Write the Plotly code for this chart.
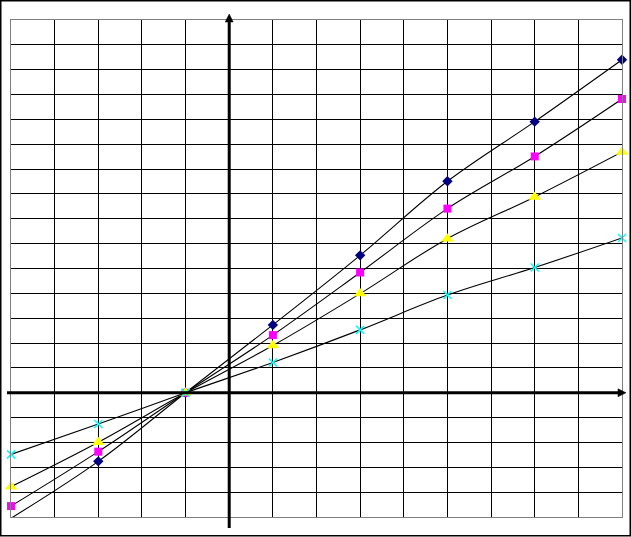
import plotly.graph_objects as go

# Data
x_vals = [-5, -3, -1, 1, 3, 5, 7, 9]
navy = [-5.05, -2.76, 0, 2.73, 5.53, 8.51, 10.91, 13.40]
magenta = [-4.56, -2.37, 0, 2.32, 4.84, 7.41, 9.51, 11.82]
yellow = [-3.78, -1.99, 0, 1.90, 3.99, 6.20, 7.88, 9.69]
cyan = [-2.48, -1.26, 0, 1.22, 2.53, 3.93, 5.04, 6.23]

X_MIN, X_MAX = -5, 9
Y_MIN, Y_MAX = -5, 15

series = [
    (navy, "diamond", "#000080", 8, None),
    (magenta, "square", "#FF00FF", 8, None),
    (yellow, "triangle-up", "#FFFF00", 11, None),
    (cyan, "x-thin", "#00FFFF", 8, "#00FFFF"),
]

fig = go.Figure()
for vals, sym, col, sz, lcol in series:
    op = [1 if Y_MIN <= v <= Y_MAX else 0 for v in vals]
    marker = dict(symbol=sym, color=col, size=sz, opacity=op)
    if lcol:
        marker["line"] = dict(color=lcol, width=1.5)
    else:
        marker["line"] = dict(width=0)
    fig.add_trace(go.Scatter(
        x=x_vals, y=vals, mode="lines+markers",
        line=dict(color="#000000", width=1.1, shape="spline", smoothing=1),
        marker=marker, cliponaxis=False, showlegend=False,
    ))

L, R, T, B = 11, 9, 20, 20
W, H = 631, 537
pw, ph = W - L - R, H - T - B

def fx(px):
    return (px - L) / pw

def fy(py):
    return (H - B - py) / ph

x0p = (0 - X_MIN) / (X_MAX - X_MIN)  # paper x of y-axis
y0p = (0 - Y_MIN) / (Y_MAX - Y_MIN)  # paper y of x-axis

fig.update_layout(
    width=W, height=H,
    margin=dict(l=L, r=R, t=T, b=B),
    paper_bgcolor="white", plot_bgcolor="white",
    xaxis=dict(range=[X_MIN, X_MAX], dtick=1, tick0=0, showgrid=True,
               gridcolor="#000000", gridwidth=1, zeroline=False,
               showticklabels=False, ticks="", showline=True,
               linecolor="#808080", linewidth=1, mirror=True, fixedrange=True),
    yaxis=dict(range=[Y_MIN, Y_MAX], dtick=1, tick0=0, showgrid=True,
               gridcolor="#000000", gridwidth=1, zeroline=False,
               showticklabels=False, ticks="", showline=True,
               linecolor="#808080", linewidth=1, mirror=True, fixedrange=True),
)

# Axis lines (paper coords, not clipped)
xax_y = y0p
yax_x = x0p
fig.add_shape(type="line", xref="paper", yref="paper",
              x0=fx(7), x1=fx(619), y0=xax_y, y1=xax_y,
              line=dict(color="#000000", width=3))
fig.add_shape(type="line", xref="paper", yref="paper",
              x0=yax_x, x1=yax_x, y0=fy(528), y1=fy(20),
              line=dict(color="#000000", width=3))

# Arrowheads
ax_px = L + x0p * pw          # pixel x of y-axis
ay_px = H - B - y0p * ph      # pixel y of x-axis
tip_x = 626
fig.add_shape(type="path", xref="paper", yref="paper",
              path=f"M {fx(tip_x)} {fy(ay_px)} L {fx(tip_x - 8)} {fy(ay_px - 4)} L {fx(tip_x - 8)} {fy(ay_px + 4)} Z",
              fillcolor="#000000", line=dict(color="#000000", width=0.5))
tip_y = 14
fig.add_shape(type="path", xref="paper", yref="paper",
              path=f"M {fx(ax_px)} {fy(tip_y)} L {fx(ax_px - 4)} {fy(tip_y + 8)} L {fx(ax_px + 4)} {fy(tip_y + 8)} Z",
              fillcolor="#000000", line=dict(color="#000000", width=0.5))

# Outer frame
fig.add_shape(type="rect", xref="paper", yref="paper",
              x0=fx(0.75), x1=fx(W - 0.75),
              y0=fy(H - 1.25), y1=fy(0.75),
              line=dict(color="#000000", width=1.5), fillcolor="rgba(0,0,0,0)")

fig.write_html("out.html", config={"displayModeBar": False},
               post_script="document.body.style.margin='0';document.body.style.overflow='hidden';")
